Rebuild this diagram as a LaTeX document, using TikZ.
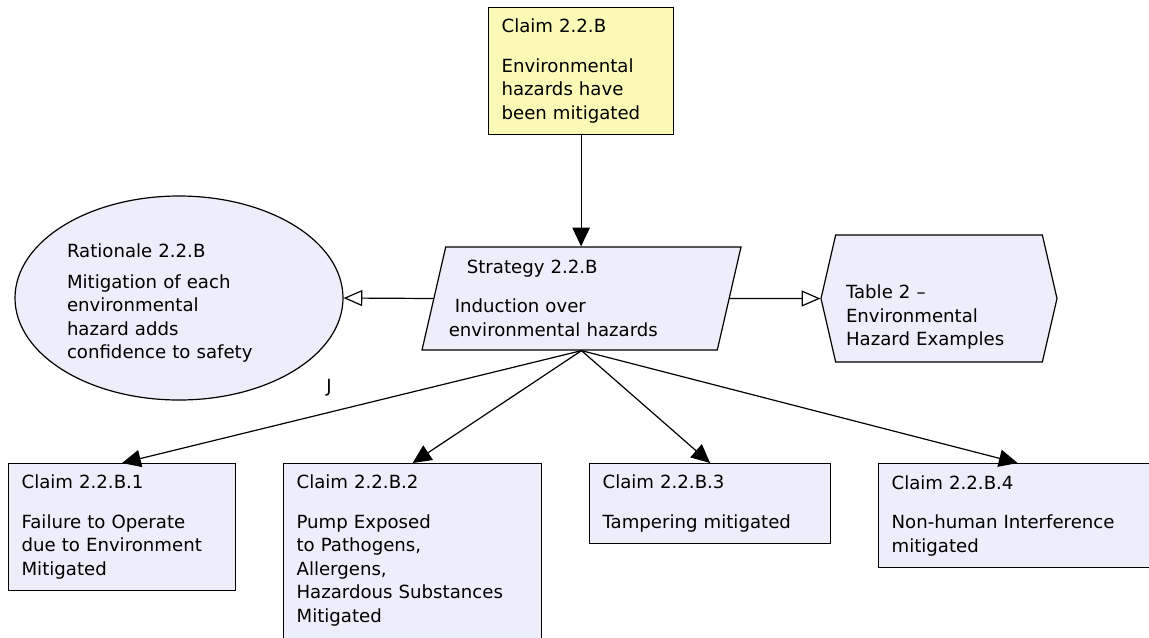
\documentclass[tikz,border=0pt]{standalone}
\usepackage{fontspec}
\setmainfont{DejaVu Sans}
\usetikzlibrary{shapes.geometric,shapes.symbols,arrows.meta}

\definecolor{claimyellow}{HTML}{FAFAB6}
\definecolor{gsnblue}{HTML}{EEEEFA}
\newcommand{\pxl}{0.75pt}

\tikzset{
  gsntext/.style={align=left, font=\fontsize{13.6}{17.6}\selectfont},
  claimbox/.style={gsntext, draw, line width=0.9pt, fill=gsnblue, anchor=north west, inner xsep=13*\pxl},
  solvedby/.style={-{Triangle[length=14pt,width=13pt]}, line width=0.9pt},
  incontext/.style={-{Triangle[open,length=14pt,width=12pt,fill=white]}, line width=0.9pt},
}

\begin{document}
\begin{tikzpicture}[x=\pxl, y=-\pxl]

\useasboundingbox (0,0) rectangle (1149,637);

% Goal at the top:
\node[claimbox, fill=claimyellow, text width=159*\pxl, minimum height=127*\pxl] (top) at (488,7)
  {Claim 2.2.B\\[12pt] Environmental\\ hazards have\\ been mitigated};

% Strategy, rationale and context:
\node[gsntext, trapezium, trapezium left angle=72.7, trapezium right angle=107.3, trapezium stretches body,
      draw, line width=0.9pt, fill=gsnblue, minimum width=319*\pxl, minimum height=103*\pxl,
      text width=240*\pxl, inner sep=0pt] (strat) at (581.5,298.5)
  {\hspace*{4pt}Strategy 2.2.B\\[11.6pt]\hspace*{-5pt}Induction over\\ \hspace*{-9.5pt}environmental hazards};
\node[gsntext, ellipse, draw, line width=0.9pt, fill=gsnblue, minimum width=328*\pxl, minimum height=204*\pxl,
      text width=224*\pxl, inner sep=0pt] (rat) at (179,298)
  {\mbox{}\\[0pt]Rationale 2.2.B\\[5.6pt] Mitigation of each\\ environmental\\ hazard adds\\ confidence to safety};
\node[gsntext, signal, signal to=west and east, signal pointer angle=154, draw, line width=0.9pt, fill=gsnblue,
      minimum width=236*\pxl, minimum height=127*\pxl, text width=186*\pxl, inner sep=0pt] (tab) at (939,298.5)
  {\mbox{}\\[21pt]Table 2 --\\ Environmental\\ Hazard Examples};
\node[gsntext] (jmark) at (329,388) {J};

% Sub-claims:
\node[claimbox, text width=201*\pxl, minimum height=127*\pxl] (c1) at (8,463)
  {Claim 2.2.B.1\\[12pt] Failure to Operate\\ due to Environment\\ Mitigated};
\node[claimbox, text width=232*\pxl, minimum height=180*\pxl] (c2) at (283,463)
  {Claim 2.2.B.2\\[12pt] Pump Exposed\\ to Pathogens,\\ Allergens,\\ Hazardous Substances\\ Mitigated\\[-10pt]\mbox{}};
\node[claimbox, text width=215*\pxl, minimum height=80*\pxl] (c3) at (589,463)
  {Claim 2.2.B.3\\[12pt] Tampering mitigated};
\node[claimbox, text width=252*\pxl, minimum height=104*\pxl] (c4) at (878,463)
  {Claim 2.2.B.4\\[12pt] Non-human Interference\\ mitigated};

% Links:
\draw[solvedby] (top.south) -- (top.south |- strat.north);
\draw[incontext] (strat.west) -- (rat.east);
\draw[incontext] (strat.east) -- (tab.west);
\foreach \c in {c1,c2,c3,c4}
  \draw[solvedby] (strat.center |- strat.south) -- (\c.north);

\end{tikzpicture}
\end{document}
